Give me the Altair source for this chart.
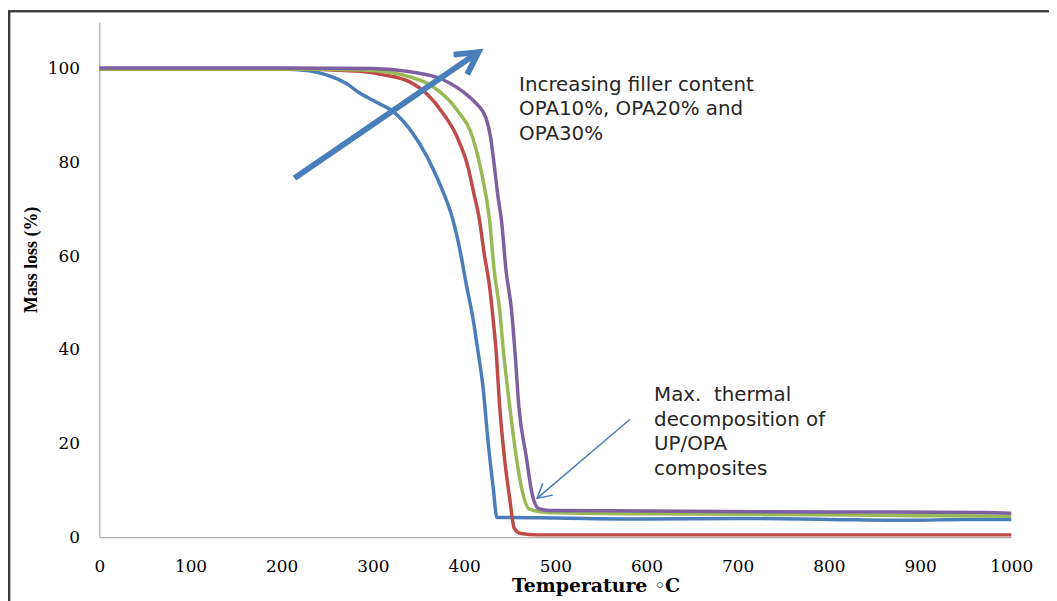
import altair as alt
import pandas as pd

# ---- data (Temperature in °C, mass in %) ----
series_names = ["UP", "UP/OPA10%", "UP/OPA20%", "UP/OPA30%"]
series_colors = ["#4a7ebb", "#be4b48", "#98b954", "#7d60a0"]

up_t = [0, 100, 200, 230, 250, 270, 286, 305, 323, 341, 359, 367, 373, 388, 394,
        403, 410, 415, 421, 426, 432, 436, 450, 500, 600, 700, 800, 889, 950, 1000]
up_m = [100, 100, 100, 99.6, 98.7, 97.0, 94.8, 92.8, 90.8, 87.0, 81.4, 78.2, 75.6, 67.6, 62.7,
        53.4, 46.4, 40.0, 31.6, 21.0, 10.4, 4.2, 4.2, 4.1, 3.9, 4.0, 3.8, 3.6, 3.8, 3.8]

opa10_t = [0, 200, 286, 310, 341, 359, 377, 392, 405, 410, 417, 422, 428, 433, 435,
           439, 444, 450, 455, 462, 480, 600, 800, 1000]
opa10_m = [100, 100, 99.5, 98.8, 97.2, 94.7, 90.5, 85.6, 78.5, 74.0, 67.6, 60.6, 53.4, 44.3, 40.0,
           28.0, 17.4, 8.3, 1.9, 0.8, 0.5, 0.5, 0.5, 0.5]

opa20_t = [0, 200, 290, 341, 366, 392, 410, 419, 428, 433, 439, 443, 450, 457, 464,
           471, 482, 500, 600, 700, 800, 900, 1000]
opa20_m = [100, 100, 99.8, 98.3, 96.2, 91.3, 85.0, 78.0, 67.6, 57.0, 48.5, 40.0, 28.0, 17.4, 9.7,
           6.1, 5.5, 5.2, 5.0, 4.9, 4.8, 4.6, 4.5]

opa30_t = [0, 200, 300, 341, 377, 406, 413, 424, 429, 433, 437, 441, 446, 452, 456, 460, 468, 475,
           482, 493, 600, 682, 800, 968, 1000]
opa30_m = [100.2, 100.2, 100.1, 99.4, 97.7, 94.0, 92.7, 89.5, 85.5, 79.5, 73.0, 67.6, 57.0, 48.5, 39.0,
           28.0, 17.4, 8.9, 6.1, 5.7, 5.6, 5.5, 5.4, 5.3, 5.1]

x_ticks = [0, 100, 200, 300, 400, 500, 600, 700, 800, 900, 1000]
y_ticks = [0, 20, 40, 60, 80, 100]

# annotation arrows (data coordinates) and texts
arrow_names = ["big", "thin"]
arrow_x0 = [214, 582]
arrow_y0 = [76.7, 25.2]
arrow_x1 = [415.7, 480]
arrow_y1 = [103.6, 8.3]

note_texts = ["Increasing filler content\nOPA10%, OPA20% and\nOPA30%",
              "Max.\u00a0 thermal\ndecomposition of\nUP/OPA\ncomposites"]
note_x = [460.3, 608.3]
note_y = [95.3, 29.0]

# ---- build tables ----
rows = []
for name, ts, ms in zip(series_names,
                        [up_t, opa10_t, opa20_t, opa30_t],
                        [up_m, opa10_m, opa20_m, opa30_m]):
    for t, m in zip(ts, ms):
        rows.append({"series": name, "T": t, "M": m})
df = pd.DataFrame(rows)

arrows = pd.DataFrame({"name": arrow_names, "x0": arrow_x0, "y0": arrow_y0,
                       "x1": arrow_x1, "y1": arrow_y1})
notes = pd.DataFrame({"text": note_texts, "x": note_x, "y": note_y})

xscale = alt.Scale(domain=[0, 1000], nice=False, zero=False)
yscale = alt.Scale(domain=[0, 110], nice=False, zero=False)

xaxis = alt.Axis(values=x_ticks, format="d", grid=False, ticks=False, labelPadding=22,
                 labelFont="DejaVu Serif", labelFontSize=17, labelColor="#000000",
                 domainColor="#9a9a9a", domainWidth=1,
                 title="Temperature \u25e6C", titleFont="DejaVu Serif", titleFontSize=19,
                 titleFontWeight="bold", titleColor="#000000",
                 titleX=500, titleY=55, titleBaseline="alphabetic", titleAlign="center",
                 labelFlush=False)
yaxis = alt.Axis(values=y_ticks, format="d", grid=False, ticks=False, labelPadding=20,
                 labelFont="DejaVu Serif", labelFontSize=17, labelColor="#000000",
                 domainColor="#9a9a9a", domainWidth=1,
                 title="Mass loss (%)", titleFont="Liberation Serif", titleFontSize=18,
                 titleFontWeight="bold", titleColor="#000000",
                 titleX=-68, titleY=239, titleAlign="center", titleBaseline="middle",
                 titleAngle=270)

lines = alt.Chart(df).mark_line(strokeWidth=3.5, interpolate="monotone").encode(
    x=alt.X("T:Q", scale=xscale, axis=xaxis),
    y=alt.Y("M:Q", scale=yscale, axis=yaxis),
    color=alt.Color("series:N", scale=alt.Scale(domain=series_names, range=series_colors),
                    legend=None),
    detail="series:N",
)

big = arrows[arrows["name"] == "big"]
thin = arrows[arrows["name"] == "thin"]

big_shaft = alt.Chart(big).mark_rule(color="#4a7ebb", strokeWidth=6).encode(
    x=alt.X("x0:Q", scale=xscale), y=alt.Y("y0:Q", scale=yscale),
    x2="x1:Q", y2="y1:Q")
big_head = alt.Chart(big).mark_point(
    shape="M -0.55 1 L 0 0 L 0.55 1", filled=False, stroke="#4a7ebb",
    strokeWidth=6, size=1936, angle=55.5, opacity=1, strokeJoin="miter").encode(
    x=alt.X("x1:Q", scale=xscale), y=alt.Y("y1:Q", scale=yscale))

thin_shaft = alt.Chart(thin).mark_rule(color="#4a7ebb", strokeWidth=1.5).encode(
    x=alt.X("x0:Q", scale=xscale), y=alt.Y("y0:Q", scale=yscale),
    x2="x1:Q", y2="y1:Q")
thin_head = alt.Chart(thin).mark_point(
    shape="M -0.55 1 L 0 0 L 0.55 1", filled=False, stroke="#4a7ebb",
    strokeWidth=1.5, size=800, angle=229.6, opacity=1).encode(
    x=alt.X("x1:Q", scale=xscale), y=alt.Y("y1:Q", scale=yscale))

texts = alt.Chart(notes).mark_text(
    align="left", baseline="alphabetic", lineBreak="\n", lineHeight=24.6,
    font="DejaVu Sans", fontSize=20, color="#262626").encode(
    x=alt.X("x:Q", scale=xscale), y=alt.Y("y:Q", scale=yscale), text="text:N")

# outer frame of the figure (decoration)
frame_left = alt.Chart(notes).mark_rule(color="#3a3a3a", strokeWidth=2).encode(
    x=alt.value(-91), y=alt.value(-12), y2=alt.value(585))
frame_left_in = alt.Chart(notes).mark_rule(color="#b8b8b8", strokeWidth=1).encode(
    x=alt.value(-89.5), y=alt.value(-10), y2=alt.value(585))
frame_top = alt.Chart(notes).mark_rule(color="#3a3a3a", strokeWidth=2).encode(
    x=alt.value(-92), x2=alt.value(960), y=alt.value(-11))

chart = alt.layer(lines, big_shaft, big_head, thin_shaft, thin_head, texts,
                  frame_left, frame_left_in, frame_top).properties(
    width=919, height=519,
    autosize=alt.AutoSizeParams(type="none"),
    padding={"left": 92, "top": 12, "right": 38, "bottom": 62},
    background="#ffffff",
).configure_view(strokeWidth=0)

chart.save("out.html", embed_options={"renderer": "svg", "actions": False})
